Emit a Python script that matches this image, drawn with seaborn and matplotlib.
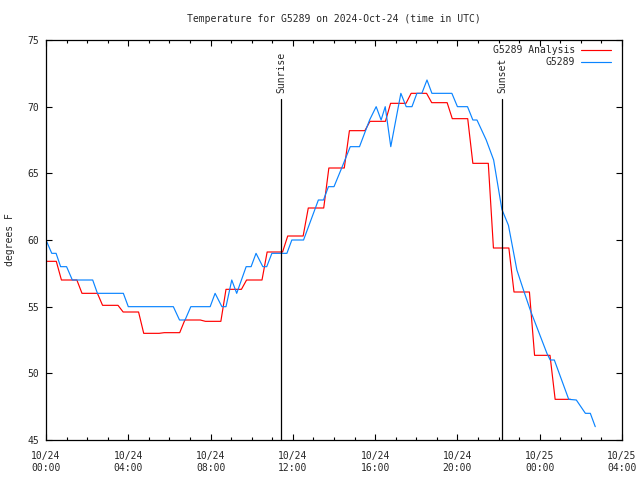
import matplotlib
matplotlib.use("Agg")
import matplotlib.pyplot as plt
from matplotlib.ticker import MultipleLocator
import numpy as np
import pandas as pd
import seaborn as sns

#%% data (hours since 10/24 00:00 UTC, degrees F)

# station observations
obs_hours = [0.0, 0.28, 0.49, 0.71, 1.0, 1.28, 2.27, 2.5, 3.76, 4.0,
             6.19, 6.49, 6.76, 7.04, 7.98, 8.22, 8.55, 8.75, 9.03, 9.27,
             9.73, 9.97, 10.21, 10.54, 10.73, 10.98, 11.71, 11.95, 12.52, 12.76,
             13.0, 13.24, 13.49, 13.73, 14.0, 14.4, 14.79, 15.24, 15.73, 16.05,
             16.29, 16.49, 16.76, 17.25, 17.51, 17.79, 18.03, 18.27, 18.52, 18.76,
             19.73, 20.0, 20.49, 20.75, 20.95, 21.4, 21.76, 22.16, 22.48, 22.89,
             23.21, 23.54, 24.35, 24.51, 24.71, 25.41, 25.78, 26.22, 26.46, 26.7]
obs_temps = [60.0, 59, 59, 58, 58, 57, 57, 56, 56, 55,
             55, 54, 54, 55, 55, 56, 55, 55, 57, 56,
             58, 58, 59, 58, 58, 59, 59, 60, 60, 61,
             62, 63, 63, 64, 64, 65.5, 67, 67, 69, 70,
             69, 70, 67, 71, 70, 70, 71, 71, 72, 71,
             71, 70, 70, 69, 69, 67.5, 66.0, 62.3, 61.1, 57.75,
             56.25, 54.75, 51.5, 51.0, 51.0, 48.05, 48.0, 47.0, 47.0, 46.0]

# hourly analysis
ana_hours = list(range(0, 26))
ana_temps = [58.4, 57.0, 56.0, 55.1, 54.6, 53.0, 53.05, 54.0, 53.9, 56.3,
             57.0, 59.1, 60.3, 62.4, 65.4, 68.2, 68.9, 70.25, 71.0, 70.3,
             69.1, 65.75, 59.4, 56.1, 51.35, 48.05]

sunrise_hour = 11.43
sunset_hour = 22.18

tick_hours = [0, 4, 8, 12, 16, 20, 24, 28]
tick_labels = ['10/24\n00:00', '10/24\n04:00', '10/24\n08:00', '10/24\n12:00',
               '10/24\n16:00', '10/24\n20:00', '10/25\n00:00', '10/25\n04:00']

#%% build frames

# analysis drawn as held steps around each hour
ah, at = [], []
for h, v in zip(ana_hours, ana_temps):
    ah += [max(h - 0.25, 0), h + 0.5]
    at += [v, v]
ana_df = pd.DataFrame({'hour': ah, 'temp': at})
obs_df = pd.DataFrame({'hour': obs_hours, 'temp': obs_temps})

#%% plot

sns.set_style('ticks')
plt.rcParams['font.family'] = ['DejaVu Sans Mono']
plt.rcParams['font.size'] = 7

red = '#ff0000'
blue = '#0a84ff'

fig = plt.figure(figsize=(6.4, 4.8), dpi=100)
ax = fig.add_axes([46/640, 40/480, 576/640, 400/480])

sns.lineplot(data=ana_df, x='hour', y='temp', sort=False, estimator=None,
             color=red, lw=0.85, ax=ax, legend=False)
sns.lineplot(data=obs_df, x='hour', y='temp', sort=False, estimator=None,
             color=blue, lw=0.85, ax=ax, legend=False)

ax.set_xlim(0, 28)
ax.set_ylim(45, 75)
ax.set_xticks(tick_hours)
ax.set_xticklabels(tick_labels)
ax.xaxis.set_minor_locator(MultipleLocator(1))
ax.set_yticks(range(45, 76, 5))
ax.tick_params(which='both', direction='in', top=True, right=True,
               labelsize=7, color='black', width=0.8)
ax.tick_params(which='major', length=4.5)
ax.tick_params(which='minor', length=2.2)
ax.tick_params(axis='x', pad=8)
ax.tick_params(axis='y', pad=5)
for s in ax.spines.values():
    s.set_linewidth(0.9)
    s.set_color('black')
ax.set_xlabel('')
ax.set_ylabel('')

# sunrise / sunset markers
for h, name in [(sunrise_hour, 'Sunrise'), (sunset_hour, 'Sunset')]:
    ax.axvline(h, ymin=0, ymax=0.8525, color='black', lw=0.9)
    ax.text(h, 0.8675, name, transform=ax.get_xaxis_transform(),
            rotation=90, ha='center', va='bottom', fontsize=7)

# legend, right aligned like gnuplot
for i, (lab, c) in enumerate([('G5289 Analysis', red), ('G5289', blue)]):
    y = 0.975 - i * 0.03
    ax.text(0.918, y, lab, transform=ax.transAxes, ha='right', va='center', fontsize=7)
    ax.plot([0.928, 0.981], [y, y], transform=ax.transAxes, color=c, lw=0.85)

fig.text(334/640, 1 - 19/480, 'Temperature for G5289 on 2024-Oct-24 (time in UTC)',
         ha='center', va='center', fontsize=7)
fig.text(10/640, 0.5, 'degrees F', rotation=90, ha='center', va='center', fontsize=7)

fig.savefig('out.png', dpi=100)
